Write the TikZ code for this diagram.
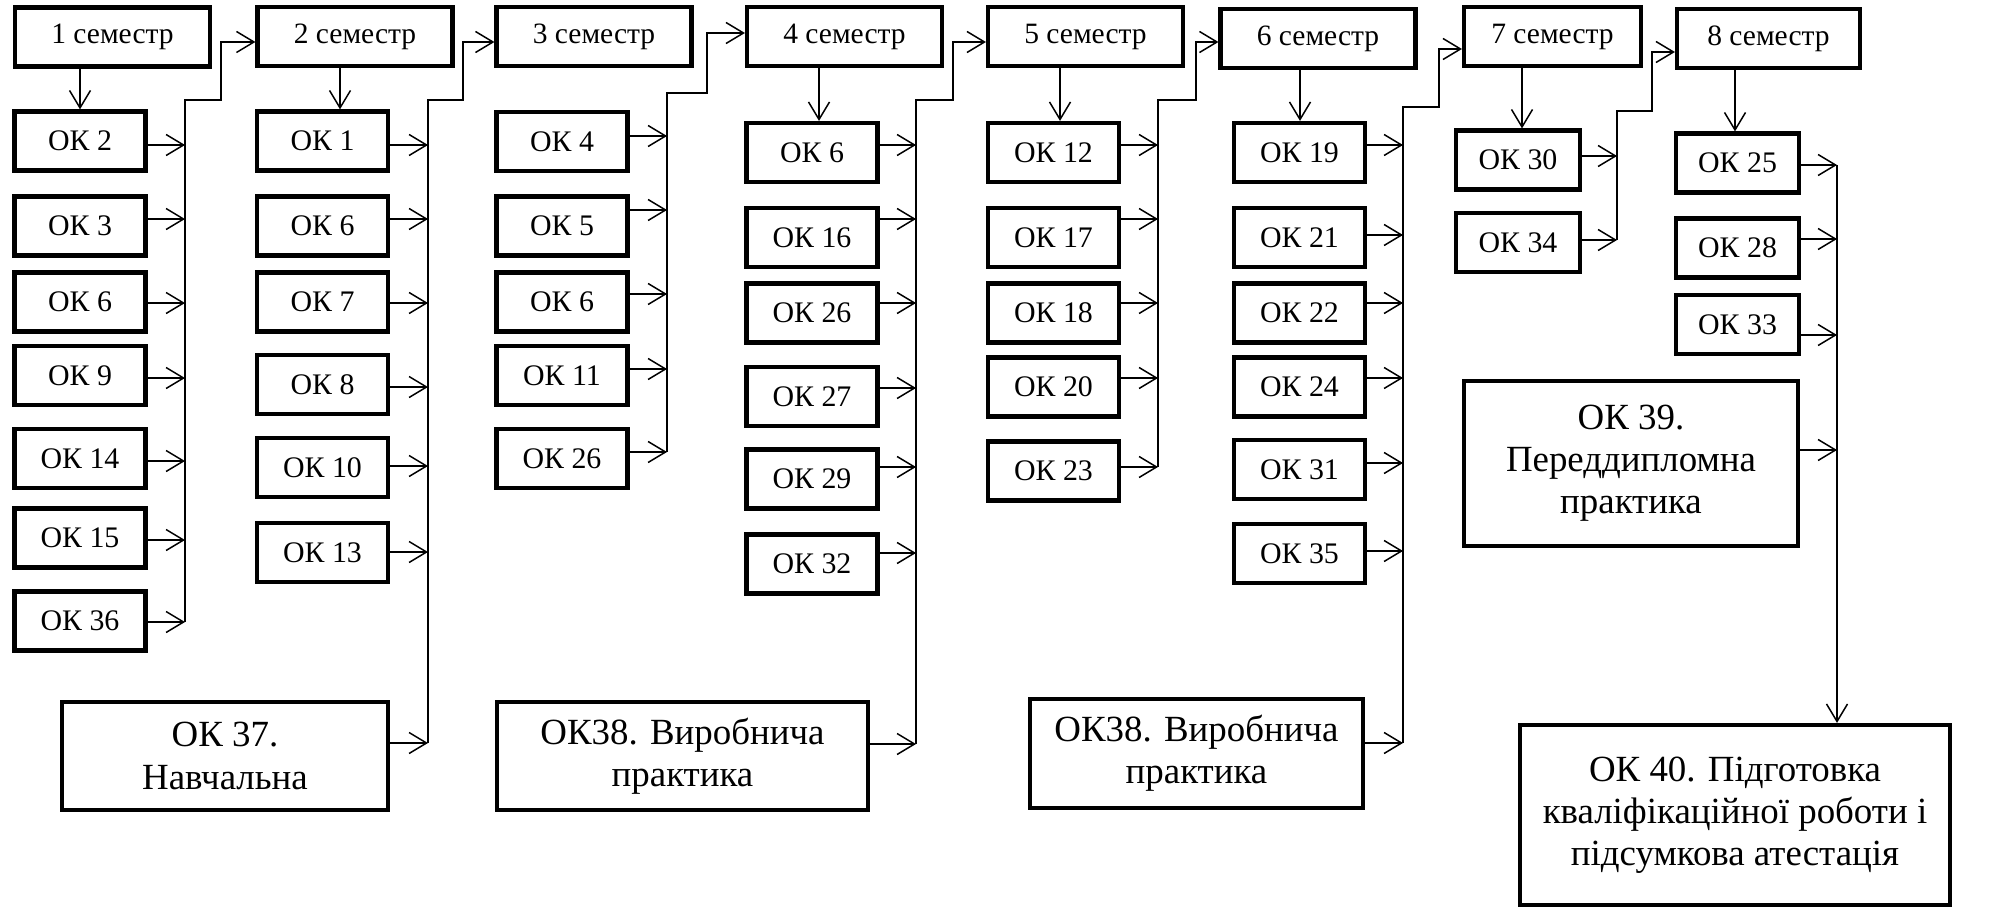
\documentclass[tikz,border=0pt]{standalone}
\usepackage{fontspec}
\setmainfont{Liberation Serif}
\usetikzlibrary{arrows.meta}

\tikzset{
  box/.style={draw, line width=2.4pt, inner sep=2pt},
  sem/.style={box, minimum width=3.9cm, minimum height=1.18cm, font=\fontsize{16.8}{19}\selectfont},
  ok/.style={box, minimum width=2.62cm, minimum height=1.18cm, font=\fontsize{17}{19}\selectfont},
  big/.style={box, align=center, font=\fontsize{21}{24}\selectfont},
  arr/.style={line width=0.85pt, -{Straight Barb[length=3.5mm, width=4.2mm]}},
}

\begin{document}
\begin{tikzpicture}[x=0.02cm, y=-0.02cm]
  \useasboundingbox (0,0) rectangle (1993,909);

  % semesters
  \node[sem] (s1) at (112.5,37)   {1 семестр};
  \node[sem] (s2) at (355,36.5)   {2 семестр};
  \node[sem] (s3) at (594,36.5)   {3 семестр};
  \node[sem] (s4) at (844.5,36.5) {4 семестр};
  \node[sem] (s5) at (1085.5,36.5) {5 семестр};
  \node[sem] (s6) at (1318,38.5)  {6 семестр};
  \node[sem, minimum width=3.54cm] (s7) at (1552.5,36.5) {7 семестр};
  \node[sem, minimum width=3.66cm] (s8) at (1768.5,38.5) {8 семестр};

  % collecting lines
  \coordinate (bus1) at (185,622);  \coordinate (jog1) at (221,100);
  \coordinate (bus2) at (428,743);  \coordinate (jog2) at (463,100);
  \coordinate (bus3) at (667,452);  \coordinate (jog3) at (707,93);
  \coordinate (bus4) at (916,744);  \coordinate (jog4) at (953,100);
  \coordinate (bus5) at (1158,467); \coordinate (jog5) at (1196,100);
  \coordinate (bus6) at (1403,743); \coordinate (jog6) at (1439,107);
  \coordinate (bus7) at (1617,240); \coordinate (jog7) at (1652,111);
  \coordinate (bus8) at (1837,165);

  \foreach \k/\yc/\ya in {2/141/145, 3/226/219, 6/302/303, 9/375.5/378, 14/458.5/461, 15/538/540, 36/621/622}{
    \node[ok] (c1ok\k) at (80,\yc) {ОК \k};
    \draw[arr] (c1ok\k.east |- 0,\ya) -- (bus1 |- 0,\ya);
  }
  \foreach \k/\yc/\ya in {1/141/145, 6/226/219, 7/302/303, 8/384.5/387, 10/467.5/466, 13/552.5/552}{
    \node[ok] (c2ok\k) at (322.5,\yc) {ОК \k};
    \draw[arr] (c2ok\k.east |- 0,\ya) -- (bus2 |- 0,\ya);
  }
  \foreach \k/\yc/\ya in {4/141.5/136, 5/226/210, 6/302/294, 11/375.5/369, 26/458.5/452}{
    \node[ok] (c3ok\k) at (562,\yc) {ОК \k};
    \draw[arr] (c3ok\k.east |- 0,\ya) -- (bus3 |- 0,\ya);
  }
  \foreach \k/\yc/\ya in {6/152.5/145, 16/237.5/219, 26/313/303, 27/396.5/388, 29/479/467, 32/564/553}{
    \node[ok] (c4ok\k) at (812,\yc) {ОК \k};
    \draw[arr] (c4ok\k.east |- 0,\ya) -- (bus4 |- 0,\ya);
  }
  \foreach \k/\yc/\ya in {12/152.5/145, 17/237.5/219, 18/313/303, 20/387/378, 23/471/467}{
    \node[ok] (c5ok\k) at (1053.5,\yc) {ОК \k};
    \draw[arr] (c5ok\k.east |- 0,\ya) -- (bus5 |- 0,\ya);
  }
  \foreach \k/\yc/\ya in {19/152.5/145, 21/237.5/235, 22/313/303, 24/387/378, 31/469.5/463, 35/553.5/551}{
    \node[ok] (c6ok\k) at (1299.5,\yc) {ОК \k};
    \draw[arr] (c6ok\k.east |- 0,\ya) -- (bus6 |- 0,\ya);
  }
  \foreach \k/\yc/\ya in {30/160/156, 34/242.5/240}{
    \node[ok, minimum width=2.48cm] (c7ok\k) at (1518,\yc) {ОК \k};
    \draw[arr] (c7ok\k.east |- 0,\ya) -- (bus7 |- 0,\ya);
  }
  \foreach \k/\yc/\ya in {25/163/165, 28/248/239, 33/324.5/335}{
    \node[ok, minimum width=2.46cm] (c8ok\k) at (1737.5,\yc) {ОК \k};
    \draw[arr] (c8ok\k.east |- 0,\ya) -- (bus8 |- 0,\ya);
  }

  % practice and final boxes
  \node[big, minimum width=6.52cm, minimum height=2.16cm] (ok37) at (225,756) {ОК 37.\\Навчальна};
  \node[big, minimum width=7.42cm, minimum height=2.16cm] (ok38a) at (682.5,756) {ОК38. Виробнича\\практика};
  \node[big, minimum width=6.66cm, minimum height=2.18cm] (ok38b) at (1196.5,753.5) {ОК38. Виробнича\\практика};
  \node[big, minimum width=6.68cm, minimum height=3.3cm] (ok39) at (1631,463.5) {ОК 39.\\Переддипломна\\практика};
  \node[big, minimum width=8.6cm, minimum height=3.6cm] (ok40) at (1735,815) {ОК 40. Підготовка\\кваліфікаційної роботи і\\підсумкова атестація};

  \draw[arr] (ok37.east |- 0,743) -- (bus2 |- 0,743);
  \draw[arr] (ok38a.east |- 0,744) -- (bus4 |- 0,744);
  \draw[arr] (ok38b.east |- 0,743) -- (bus6 |- 0,743);
  \draw[arr] (ok39.east |- 0,450) -- (bus8 |- 0,450);

  % semester to first subject
  \draw[arr] (s1.south -| 80,0)   -- (c1ok2.north -| 80,0);
  \draw[arr] (s2.south -| 340,0)  -- (c2ok1.north -| 340,0);
  \draw[arr] (s4.south -| 819,0)  -- (c4ok6.north -| 819,0);
  \draw[arr] (s5.south -| 1060,0) -- (c5ok12.north -| 1060,0);
  \draw[arr] (s6.south -| 1300,0) -- (c6ok19.north -| 1300,0);
  \draw[arr] (s7.south -| 1522,0) -- (c7ok30.north -| 1522,0);
  \draw[arr] (s8.south -| 1735,0) -- (c8ok25.north -| 1735,0);

  % on to the next semester
  \draw[arr] (bus1) |- (jog1) |- (s2.west |- 0,42);
  \draw[arr] (bus2) |- (jog2) |- (s3.west |- 0,42);
  \draw[arr] (bus3) |- (jog3) |- (s4.west |- 0,33);
  \draw[arr] (bus4) |- (jog4) |- (s5.west |- 0,42);
  \draw[arr] (bus5) |- (jog5) |- (s6.west |- 0,42);
  \draw[arr] (bus6) |- (jog6) |- (s7.west |- 0,49);
  \draw[arr] (bus7) |- (jog7) |- (s8.west |- 0,52);
  \draw[arr] (bus8) -- (ok40.north -| bus8);
\end{tikzpicture}
\end{document}
